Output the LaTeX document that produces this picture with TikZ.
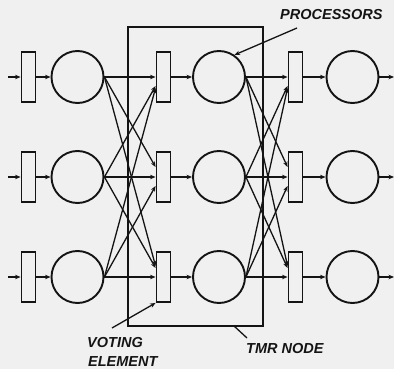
\documentclass[tikz,border=0pt]{standalone}
\usepackage{fontspec}
\setmainfont{Liberation Sans}
\usetikzlibrary{arrows.meta,calc}
\definecolor{bg}{RGB}{240,240,240}
\definecolor{ink}{RGB}{20,20,20}
\begin{document}
\begin{tikzpicture}[x=1pt,y=-1pt,
  voter/.style={draw=ink,line width=1.9pt,fill=bg,minimum width=14pt,minimum height=50pt,inner sep=0pt},
  proc/.style={draw=ink,line width=1.9pt,fill=bg,circle,minimum size=52pt,inner sep=0pt},
  conn/.style={draw=ink,line width=1.3pt,-{Stealth[length=5.5pt,width=4.5pt]}},
  lead/.style={draw=ink,line width=1.3pt},
  lbl/.style={font=\fontsize{14.5}{16}\selectfont\bfseries\itshape,text=ink,inner sep=0pt}]
\fill[bg] (0,0) rectangle (394,369);
\useasboundingbox (0,0) rectangle (394,369);
% TMR box
\node[draw=ink,line width=2pt,minimum width=135pt,minimum height=299pt,inner sep=0pt] (tmr) at (195.5,176.5) {};
% rows
\foreach \r/\y in {1/77,2/177,3/277}{
  \coordinate (in\r) at (8,\y);
  \coordinate (out\r) at (394,\y);
  \node[voter] (va\r) at (28.5,\y) {};
  \node[proc]  (pa\r) at (77.5,\y) {};
  \node[voter] (vb\r) at (163.5,\y) {};
  \node[proc]  (pb\r) at (219,\y) {};
  \node[voter] (vc\r) at (295.5,\y) {};
  \node[proc]  (pc\r) at (352.5,\y) {};
  \draw[conn] (in\r) -- (va\r.west);
  \draw[conn] (va\r.east) -- (pa\r.west);
  \draw[conn] (vb\r.east) -- (pb\r.west);
  \draw[conn] (vc\r.east) -- (pc\r.west);
  \draw[conn] (pc\r.east) -- (out\r);
  \draw[conn] (pa\r.east) -- (vb\r.west);
  \draw[conn] (pb\r.east) -- (vc\r.west);
}
% cross connections
\foreach \p/\v in {a/b,b/c}{
  \draw[conn] (p\p2.east) -- ($(v\v1.west)+(0,9)$);
  \draw[conn] (p\p3.east) -- ($(v\v1.west)+(0,11)$);
  \draw[conn] (p\p1.east) -- ($(v\v2.west)+(0,-10)$);
  \draw[conn] (p\p3.east) -- ($(v\v2.west)+(0,9)$);
  \draw[conn] (p\p1.east) -- ($(v\v3.west)+(0,-11)$);
  \draw[conn] (p\p2.east) -- ($(v\v3.west)+(0,-9)$);
}
% labels
\node[lbl,anchor=base west] (lproc) at (280,19.5) {PROCESSORS};
\coordinate (lprocpt) at (297,28);
\draw[conn] (lprocpt) -- (pb1.55);
\node[lbl,anchor=base west] (lvote) at (87,347) {VOTING};
\node[lbl,anchor=base west] (lelem) at (88,366) {ELEMENT};
\coordinate (lvotept) at (112,328);
\draw[conn] (lvotept) -- (vb3.south west);
\node[lbl,anchor=base west] (ltmr) at (246,353) {TMR NODE};
\coordinate (ltmrpt) at (247,338);
\coordinate (tmrpt) at (234,326);
\draw[lead] (ltmrpt) -- (tmrpt);
\end{tikzpicture}
\end{document}
